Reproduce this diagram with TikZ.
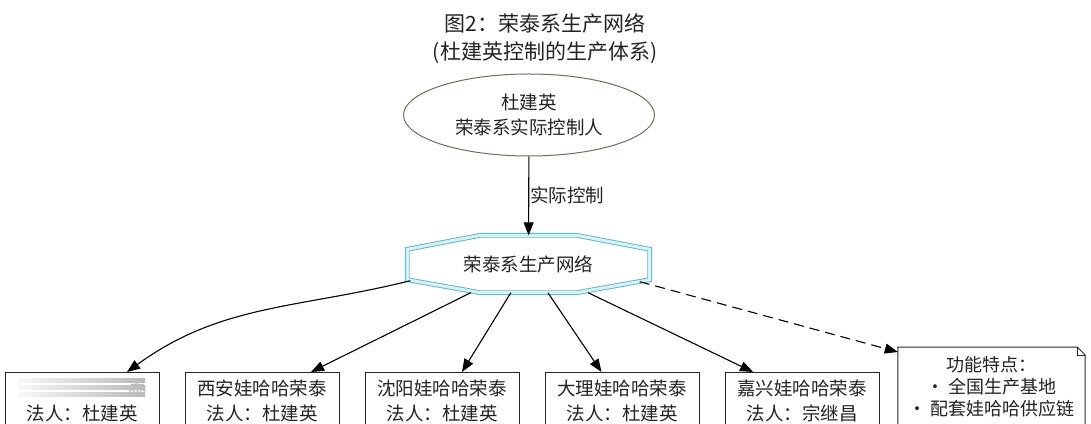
\documentclass[tikz,border=0pt]{standalone}
\usepackage{fontspec}
\newfontfamily\cjk{Noto Sans CJK SC}
\usetikzlibrary{positioning,shapes.geometric,arrows.meta,calc}

\begin{document}
\begin{tikzpicture}[x=1pt,y=1pt,
  txt/.style={text=textColor,font=\cjk\fontsize{18.5}{25}\selectfont,align=center,inner sep=0pt},
  firm/.style={txt,draw=boxColor,line width=1pt,minimum width=154pt,minimum height=57pt,anchor=north},
  ctrl/.style={draw=black,line width=1.1pt,-{Triangle[length=13pt,width=10pt]}}]
\definecolor{textColor}{RGB}{35,35,35}
\definecolor{boxColor}{RGB}{40,40,40}
\definecolor{ovalColor}{RGB}{120,104,96}
\definecolor{netColor}{RGB}{95,180,198}
\definecolor{netFill}{RGB}{214,242,246}
\definecolor{blurLight}{RGB}{248,248,248}
\definecolor{blurDark}{RGB}{185,185,185}
\path[use as bounding box,fill=white] (0,0) rectangle (1091,423);
\clip (0,0) rectangle (1091,423);

% title
\node[txt,font=\cjk\fontsize{21}{28}\selectfont] (title) at (545,384.5) {图2：荣泰系生产网络\\(杜建英控制的生产体系)};

% controller and network
\node[txt,ellipse,draw=ovalColor,line width=1pt,minimum width=251pt,minimum height=82pt] (owner) at (529,308) {杜建英\\荣泰系实际控制人};

\node[txt,minimum width=242pt,minimum height=57pt] (net) at (528.5,159) {荣泰系生产网络};
\draw[netColor,double=netFill,double distance=3pt,line width=0.9pt]
  ($(net.north west)+(73,0)$) -- ($(net.north east)+(-73,0)$) --
  ($(net.north east)+(0,-14)$) -- ($(net.south east)+(0,13)$) --
  ($(net.south east)+(-73,0)$) -- ($(net.south west)+(73,0)$) --
  ($(net.south west)+(0,13)$) -- ($(net.north west)+(0,-14)$) -- cycle;
\coordinate (netL) at ($(net.south west)+(3,12)$);
\coordinate (netR) at ($(net.south east)+(-10,11)$);

\draw[ctrl] (owner) -- node[txt,right=1pt] (ctrlLabel) {实际控制} (net);

% factories
\node[firm] (b1) at (82,51) {\phantom{娃娃娃娃娃娃}\textcolor{blurDark}{泰}\\法人：杜建英};
\node[firm,right=25pt of b1] (b2) {西安娃哈哈荣泰\\法人：杜建英};
\node[firm,right=25pt of b2] (b3) {沈阳娃哈哈荣泰\\法人：杜建英};
\node[firm,right=25pt of b3] (b4) {大理娃哈哈荣泰\\法人：杜建英};
\node[firm,right=25pt of b4] (b5) {嘉兴娃哈哈荣泰\\法人：宗继昌};

% blurred name
\shade[left color=blurLight,right color=blurDark] (18,41) rectangle (145,45);
\shade[left color=blurLight,right color=blurDark] (18,34) rectangle (145,38);
\shade[left color=blurLight,right color=blurDark] (18,26.5) rectangle (145,30.5);

% note
\node[txt,minimum width=187pt,minimum height=80pt,anchor=north,
  font=\cjk\fontsize{18}{22}\selectfont] (note) at (991.5,76) {功能特点：\\• 全国生产基地\\• 配套娃哈哈供应链};
\draw[boxColor,line width=1pt] (note.north west) -- ($(note.north east)+(-8,0)$) --
  ($(note.north east)+(0,-8)$) -- (note.south east) -- (note.south west) -- cycle;
\draw[boxColor,line width=0.8pt] ($(note.north east)+(-8,0)$) |- ++(8,-8);

% edges
\draw[ctrl] (netL) to[out=194,in=36] ([xshift=45pt]b1.north);
\draw[ctrl] (net) -- ([xshift=49pt]b2.north);
\draw[ctrl] (net) -- ([xshift=20pt]b3.north);
\draw[ctrl] (net) -- ([xshift=-20.5pt]b4.north);
\draw[ctrl] (net) -- ([xshift=-49pt]b5.north);
\draw[ctrl,dash pattern=on 10pt off 6pt] (netR) -- ([yshift=-5pt]note.north west);
\end{tikzpicture}
\end{document}
